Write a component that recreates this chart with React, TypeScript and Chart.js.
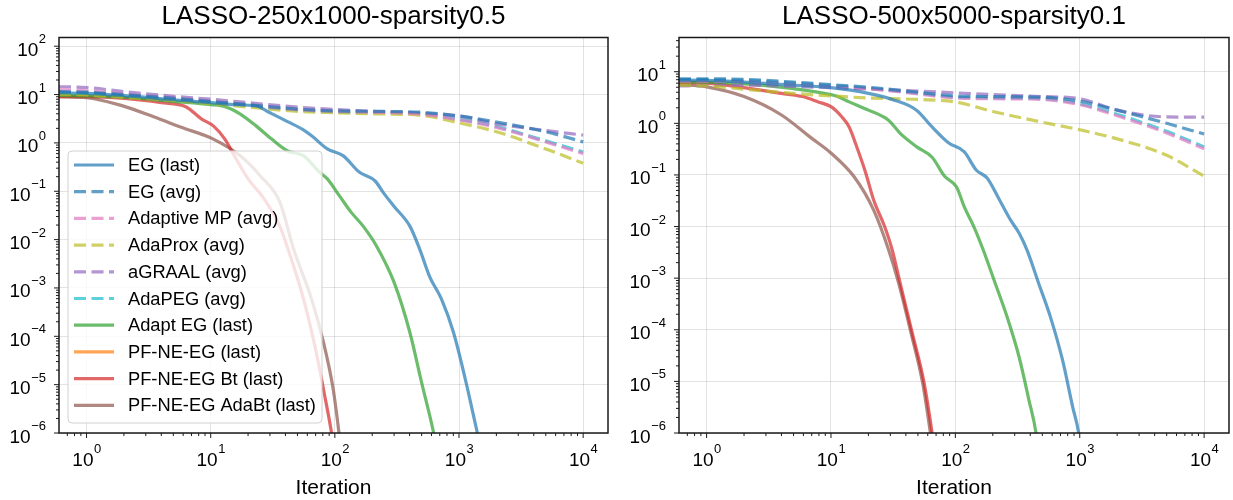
import React, { useEffect, useRef } from "react";
import { Chart, registerables } from "chart.js";

Chart.register(...registerables);

const FONT = "'Liberation Sans', Arial, Helvetica, sans-serif";

// ---------- series meta ----------
const seriesLabels = [
  "EG (last)",
  "EG (avg)",
  "Adaptive MP (avg)",
  "AdaProx (avg)",
  "aGRAAL (avg)",
  "AdaPEG (avg)",
  "Adapt EG (last)",
  "PF-NE-EG (last)",
  "PF-NE-EG Bt (last)",
  "PF-NE-EG AdaBt (last)",
];
const seriesColors = [
  "rgba(31,119,180,0.7)",
  "rgba(31,119,180,0.7)",
  "rgba(227,119,194,0.7)",
  "rgba(188,189,34,0.7)",
  "rgba(148,103,189,0.7)",
  "rgba(23,190,207,0.7)",
  "rgba(44,160,44,0.7)",
  "rgba(255,127,14,0.7)",
  "rgba(214,39,40,0.7)",
  "rgba(140,86,75,0.7)",
];
const seriesDashed = [false, true, true, true, true, true, false, false, false, false];

// ---------- shared iteration grid for averaged methods ----------
const iterAvg = [0.6, 1, 2, 5, 10, 20, 50, 100, 200, 500, 1000, 2000, 5000, 10000];

// ---------- Left panel: LASSO-250x1000-sparsity0.5 ----------
const leftTitle = "LASSO-250x1000-sparsity0.5";
const leftEgAvg = [11.5, 11.2, 10.0, 8.4, 7.2, 6.2, 5.0, 4.6, 4.5, 4.3, 3.6, 2.7, 1.7, 1.05];
const leftAdaMP = [12.5, 12.0, 10.3, 8.5, 7.3, 6.1, 4.9, 4.5, 4.3, 3.9, 3.0, 2.1, 1.05, 0.6];
const leftAdaProx = [10.0, 9.8, 8.8, 7.5, 6.5, 5.5, 4.5, 4.2, 4.0, 3.7, 2.6, 1.7, 0.75, 0.38];
const leftAGraal = [14.5, 14.0, 11.5, 9.2, 8.0, 6.8, 5.5, 4.9, 4.5, 4.1, 3.6, 2.5, 1.8, 1.45];
const leftAdaPEG = [11.0, 10.8, 9.6, 8.0, 7.0, 5.9, 4.8, 4.4, 4.3, 4.0, 3.1, 2.2, 1.1, 0.65];

const leftEgLastX = [0.6, 1, 2, 5, 10, 15, 23, 30, 42, 55, 65, 87, 117, 157, 211, 244, 299, 402, 483, 581, 724, 903, 1127, 1406, 1700];
const leftEgLastY = [10.8, 10.6, 9.5, 7.8, 6.8, 6.2, 5.86, 4.2, 2.73, 1.9, 1.4, 0.75, 0.54, 0.25, 0.163, 0.096, 0.049, 0.019, 0.0063, 0.0017, 5.8e-4, 1.2e-4, 1.26e-5, 1e-6, 1.2e-7];

const leftAdaptEgX = [0.6, 1, 2, 5, 10, 13.1, 17.2, 23.2, 31, 41.7, 56, 75, 87, 109, 135, 169, 217, 300, 402, 500, 625, 720];
const leftAdaptEgY = [9.6, 9.4, 8.8, 7.2, 6.2, 5.6, 4.0, 2.25, 1.2, 0.68, 0.54, 0.25, 0.18, 0.08, 0.037, 0.019, 0.0073, 0.0013, 1.2e-4, 1.1e-5, 1e-6, 1.5e-7];

const leftPfX: number[] = [];
const leftPfY: number[] = [];

const leftBtX = [0.6, 1, 2, 4, 6.3, 8.4, 10.5, 13, 16, 20, 27, 36, 42, 56, 70, 84, 94, 102];
const leftBtY = [9.0, 9.0, 8.3, 6.8, 5.6, 3.15, 2.25, 1.2, 0.47, 0.18, 0.069, 0.019, 0.0063, 5.8e-4, 5.3e-5, 4.9e-6, 1e-6, 2e-7];

const leftAdaBtX = [0.6, 1, 1.15, 1.93, 3.47, 5.8, 10.5, 17.3, 25, 36, 46.6, 65, 81, 97, 108, 116];
const leftAdaBtY = [9.0, 8.6, 8.2, 5.9, 3.46, 2.1, 1.2, 0.54, 0.21, 0.06, 0.0063, 5.8e-4, 7.5e-5, 8e-6, 1e-6, 2e-7];

// ---------- Right panel: LASSO-500x5000-sparsity0.1 ----------
const rightTitle = "LASSO-500x5000-sparsity0.1";
const rightEgAvg = [7.3, 7.3, 7.1, 6.3, 5.6, 5.0, 4.0, 3.4, 3.3, 3.2, 2.7, 1.8, 1.0, 0.62];
const rightAdaMP = [6.6, 6.6, 6.5, 5.8, 5.2, 4.7, 3.7, 3.1, 3.0, 2.9, 2.3, 1.4, 0.65, 0.32];
const rightAdaProx = [5.5, 5.3, 4.6, 3.8, 3.4, 3.1, 2.9, 2.6, 1.7, 1.05, 0.75, 0.5, 0.24, 0.095];
const rightAGraal = [5.3, 5.4, 5.5, 5.2, 4.9, 4.6, 4.2, 3.9, 3.6, 3.3, 3.0, 1.8, 1.33, 1.32];
const rightAdaPEG = [7.0, 7.0, 6.8, 6.0, 5.4, 4.8, 3.8, 3.2, 3.1, 3.0, 2.4, 1.5, 0.7, 0.35];

const rightEgLastX = [0.6, 1, 2, 5, 10, 20, 31, 48.7, 65, 88, 118, 147, 180, 226, 280, 325, 377, 467, 580, 727, 877, 980, 1060];
const rightEgLastY = [6.9, 6.8, 6.3, 5.5, 4.9, 3.8, 2.9, 1.8, 0.85, 0.42, 0.28, 0.125, 0.087, 0.033, 0.013, 0.0075, 0.0035, 8e-4, 1.8e-4, 2.6e-5, 3.2e-6, 1e-6, 2e-7];

const rightAdaptEgX = [0.6, 1, 2, 5, 10, 11.3, 14, 20, 29, 36, 49, 65, 82, 102, 118, 141, 167, 209, 260, 325, 390, 445, 480];
const rightAdaptEgY = [6.4, 6.3, 5.8, 4.7, 3.6, 3.3, 2.6, 1.8, 1.15, 0.64, 0.35, 0.22, 0.094, 0.059, 0.024, 0.0099, 0.0036, 8e-4, 1.8e-4, 3e-5, 4.4e-6, 1e-6, 2e-7];

const rightPfX: number[] = [];
const rightPfY: number[] = [];

const rightBtX = [0.6, 1, 2, 4, 5.9, 7.9, 10, 12.2, 14, 16.4, 19, 22, 27, 31, 36, 45, 56, 65, 70];
const rightBtY = [6.2, 6.0, 4.9, 3.8, 3.3, 2.6, 2.1, 1.34, 0.85, 0.31, 0.11, 0.033, 0.01, 0.0036, 8e-4, 8.7e-5, 9.5e-6, 1e-6, 2.5e-7];

const rightAdaBtX = [0.6, 1, 2, 4, 6.8, 10.1, 15.3, 22, 29, 35, 44, 54.5, 63, 68];
const rightAdaBtY = [5.6, 5.1, 3.3, 1.45, 0.54, 0.26, 0.093, 0.021, 0.0036, 8e-4, 8.7e-5, 9.5e-6, 1e-6, 2.5e-7];

// ---------- axes ----------
const xLabel = "Iteration";
const xTickExps = [0, 1, 2, 3, 4];
const leftYTickExps = [-6, -5, -4, -3, -2, -1, 0, 1, 2];
const rightYTickExps = [-6, -5, -4, -3, -2, -1, 0, 1];
const xMin = Math.pow(10, -0.2);
const xMax = Math.pow(10, 4.2);
const leftYMin = 1e-6;
const leftYMax = Math.pow(10, 2.18);
const rightYMin = 1e-6;
const rightYMax = Math.pow(10, 1.663);

// ---------- helpers ----------
const zip = (xs: number[], ys: number[]) => xs.map((x, i) => ({ x, y: ys[i] }));

const isMajor = (v: number) => {
  const l = Math.log10(v);
  return Math.abs(l - Math.round(l)) < 1e-6;
};

const logTicks = (min: number, max: number) => {
  const out: { value: number }[] = [];
  for (let e = Math.floor(Math.log10(min)); e <= Math.ceil(Math.log10(max)); e++) {
    for (let k = 1; k <= 9; k++) {
      const v = k * Math.pow(10, e);
      if (v >= min * 0.9999 && v <= max * 1.0001) out.push({ value: v });
    }
  }
  return out;
};

function buildDatasets(xsList: number[][], ysList: number[][]) {
  return seriesLabels.map((label, i) => ({
    label,
    data: zip(xsList[i], ysList[i]),
    borderColor: seriesColors[i],
    backgroundColor: seriesColors[i],
    borderWidth: 3.2,
    borderDash: seriesDashed[i] ? [12, 5.5] : [],
    pointRadius: 0,
    fill: false,
    cubicInterpolationMode: "monotone" as const,
    clip: 0,
  }));
}

const expText = (e: number) => (e < 0 ? "\u2212" + Math.abs(e) : String(e));

function makeDecor(title: string, yExps: number[], showLegend: boolean) {
  return {
    id: "decor",
    afterDraw(chart: any) {
      const ctx: CanvasRenderingContext2D = chart.ctx;
      const a = chart.chartArea;
      const xs = chart.scales.x;
      const ys = chart.scales.y;
      ctx.save();

      // legend
      if (showLegend) {
        const x0 = a.left + 9;
        const x1 = a.left + 263;
        const y1 = a.bottom - 10;
        const y0 = a.bottom - 282;
        const r = 4;
        ctx.beginPath();
        ctx.moveTo(x0 + r, y0);
        ctx.lineTo(x1 - r, y0);
        ctx.arcTo(x1, y0, x1, y0 + r, r);
        ctx.lineTo(x1, y1 - r);
        ctx.arcTo(x1, y1, x1 - r, y1, r);
        ctx.lineTo(x0 + r, y1);
        ctx.arcTo(x0, y1, x0, y1 - r, r);
        ctx.lineTo(x0, y0 + r);
        ctx.arcTo(x0, y0, x0 + r, y0, r);
        ctx.closePath();
        ctx.fillStyle = "rgba(255,255,255,0.8)";
        ctx.fill();
        ctx.strokeStyle = "#d0d0d0";
        ctx.lineWidth = 1;
        ctx.stroke();
        chart.data.datasets.forEach((ds: any, i: number) => {
          const y = y0 + 14 + i * 26.7;
          ctx.beginPath();
          ctx.strokeStyle = ds.borderColor;
          ctx.lineWidth = ds.borderWidth;
          ctx.setLineDash(ds.borderDash || []);
          ctx.moveTo(x0 + 6, y);
          ctx.lineTo(x0 + 46, y);
          ctx.stroke();
          ctx.setLineDash([]);
          ctx.fillStyle = "#000";
          ctx.font = `18.3px ${FONT}`;
          ctx.textAlign = "left";
          ctx.textBaseline = "middle";
          ctx.fillText(ds.label, x0 + 60, y + 1);
        });
      }

      // frame
      ctx.setLineDash([]);
      ctx.strokeStyle = "#1a1a1a";
      ctx.lineWidth = 1.5;
      ctx.strokeRect(a.left, a.top, a.right - a.left, a.bottom - a.top);

      // tick marks
      ctx.lineWidth = 1;
      ctx.strokeStyle = "#1a1a1a";
      xs.ticks.forEach((t: any) => {
        const p = xs.getPixelForValue(t.value);
        if (p < a.left - 0.5 || p > a.right + 0.5) return;
        const len = isMajor(t.value) ? 5 : 3;
        ctx.beginPath();
        ctx.moveTo(p, a.bottom);
        ctx.lineTo(p, a.bottom + len);
        ctx.stroke();
      });
      ys.ticks.forEach((t: any) => {
        const p = ys.getPixelForValue(t.value);
        if (p < a.top - 0.5 || p > a.bottom + 0.5) return;
        const len = isMajor(t.value) ? 5 : 3;
        ctx.beginPath();
        ctx.moveTo(a.left, p);
        ctx.lineTo(a.left - len, p);
        ctx.stroke();
      });

      // tick labels
      ctx.fillStyle = "#000";
      ctx.textBaseline = "alphabetic";
      ctx.textAlign = "left";
      const baseFont = `19px ${FONT}`;
      const supFont = `13px ${FONT}`;
      xTickExps.forEach((e) => {
        const p = xs.getPixelForValue(Math.pow(10, e));
        ctx.font = baseFont;
        const w1 = ctx.measureText("10").width;
        ctx.font = supFont;
        const w2 = ctx.measureText(expText(e)).width;
        const start = p - (w1 + w2) / 2;
        ctx.font = baseFont;
        ctx.fillText("10", start, a.bottom + 33);
        ctx.font = supFont;
        ctx.fillText(expText(e), start + w1 + 0.5, a.bottom + 19.5);
      });
      yExps.forEach((e) => {
        const p = ys.getPixelForValue(Math.pow(10, e));
        ctx.font = supFont;
        const w2 = ctx.measureText(expText(e)).width;
        ctx.font = baseFont;
        const w1 = ctx.measureText("10").width;
        const right = a.left - 13;
        ctx.fillText("10", right - w2 - w1 - 0.5, p + 9.5);
        ctx.font = supFont;
        ctx.fillText(expText(e), right - w2, p - 3);
      });

      // title & x label
      const cx = (a.left + a.right) / 2;
      ctx.textAlign = "center";
      ctx.textBaseline = "middle";
      ctx.font = `26px ${FONT}`;
      ctx.fillText(title, cx, 17);
      ctx.font = `21px ${FONT}`;
      ctx.fillText(xLabel, cx, 488);
      ctx.restore();
    },
  };
}

function makeConfig(
  title: string,
  datasets: any[],
  yMin: number,
  yMax: number,
  yExps: number[],
  rightPad: number,
  showLegend: boolean
): any {
  const gridColor = (c: any) =>
    c.tick && isMajor(c.tick.value) ? "rgba(0,0,0,0.11)" : "rgba(0,0,0,0)";
  return {
    type: "line",
    data: { datasets },
    options: {
      responsive: false,
      animation: false,
      devicePixelRatio: 1,
      events: [],
      layout: { padding: { left: 0, right: rightPad, top: 37.5, bottom: 0 } },
      plugins: {
        legend: { display: false },
        title: { display: false },
        tooltip: { enabled: false },
      },
      scales: {
        x: {
          type: "logarithmic",
          position: "bottom",
          min: xMin,
          max: xMax,
          ticks: { display: false },
          grid: { color: gridColor, drawTicks: false, lineWidth: 1 },
          border: { display: false },
          afterBuildTicks: (s: any) => {
            s.ticks = logTicks(xMin, xMax);
          },
          afterFit: (s: any) => {
            s.height = 67;
          },
        },
        y: {
          type: "logarithmic",
          position: "left",
          min: yMin,
          max: yMax,
          ticks: { display: false },
          grid: { color: gridColor, drawTicks: false, lineWidth: 1 },
          border: { display: false },
          afterBuildTicks: (s: any) => {
            s.ticks = logTicks(yMin, yMax);
          },
          afterFit: (s: any) => {
            s.width = 59;
          },
        },
      },
    },
    plugins: [makeDecor(title, yExps, showLegend)],
  };
}

export default function App() {
  const leftRef = useRef<HTMLCanvasElement | null>(null);
  const rightRef = useRef<HTMLCanvasElement | null>(null);

  useEffect(() => {
    const leftXs = [leftEgLastX, iterAvg, iterAvg, iterAvg, iterAvg, iterAvg, leftAdaptEgX, leftPfX, leftBtX, leftAdaBtX];
    const leftYs = [leftEgLastY, leftEgAvg, leftAdaMP, leftAdaProx, leftAGraal, leftAdaPEG, leftAdaptEgY, leftPfY, leftBtY, leftAdaBtY];
    const rightXs = [rightEgLastX, iterAvg, iterAvg, iterAvg, iterAvg, iterAvg, rightAdaptEgX, rightPfX, rightBtX, rightAdaBtX];
    const rightYs = [rightEgLastY, rightEgAvg, rightAdaMP, rightAdaProx, rightAGraal, rightAdaPEG, rightAdaptEgY, rightPfY, rightBtY, rightAdaBtY];

    const c1 = new Chart(
      leftRef.current as HTMLCanvasElement,
      makeConfig(leftTitle, buildDatasets(leftXs, leftYs), leftYMin, leftYMax, leftYTickExps, 12, true)
    );
    const c2 = new Chart(
      rightRef.current as HTMLCanvasElement,
      makeConfig(rightTitle, buildDatasets(rightXs, rightYs), rightYMin, rightYMax, rightYTickExps, 4, false)
    );
    return () => {
      c1.destroy();
      c2.destroy();
    };
  }, []);

  return (
    <div style={{ position: "absolute", left: 0, top: 0, width: 1233, height: 500, background: "#fff" }}>
      <canvas
        ref={leftRef}
        width={620}
        height={500}
        style={{ position: "absolute", left: 0, top: 0, width: 620, height: 500 }}
      />
      <canvas
        ref={rightRef}
        width={613}
        height={500}
        style={{ position: "absolute", left: 620, top: 0, width: 613, height: 500 }}
      />
    </div>
  );
}
